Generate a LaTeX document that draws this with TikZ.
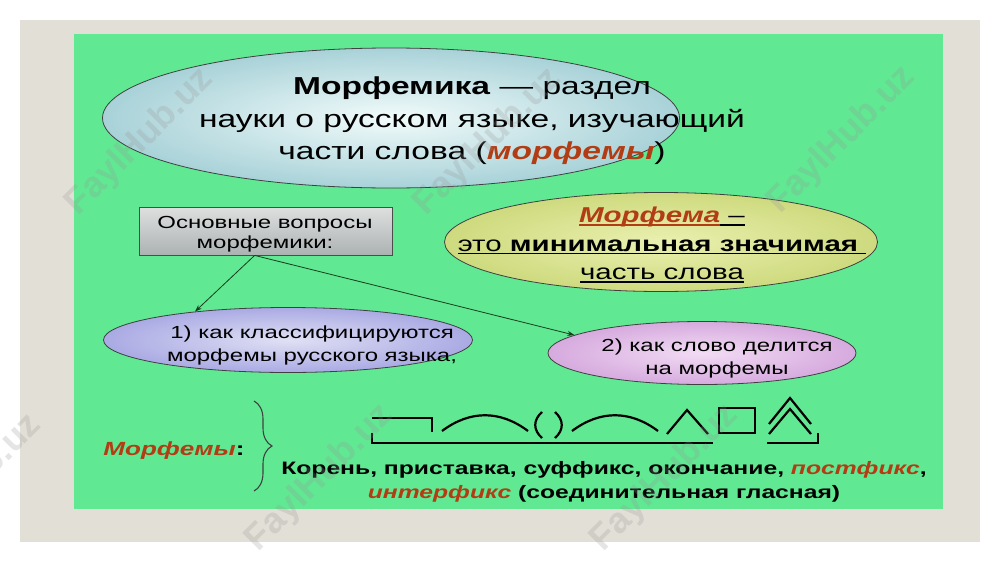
\documentclass[tikz,border=0pt]{standalone}
\usepackage{fontspec}
\setmainfont{Liberation Sans}[FakeStretch=1.37]
\newfontfamily\wmfont{Liberation Sans}
\newcommand{\myul}[1]{\setbox0\hbox{#1}\rlap{\rule[-3pt]{\wd0}{1.6pt}}\box0}
\usetikzlibrary{shapes.geometric,arrows.meta,decorations.pathreplacing}
\definecolor{framegray}{RGB}{226,223,214}
\definecolor{slidegreen}{RGB}{96,232,146}
\definecolor{accent}{RGB}{178,60,20}
\definecolor{arrowgreen}{RGB}{25,60,30}
\tikzset{
  oval/.style={ellipse, draw=black!75, line width=0.8pt, inner sep=0pt, shading=radial},
  txt/.style={align=center, inner sep=0pt, text=black},
  sym/.style={line width=2.2pt, black, line cap=butt, line join=miter},
  link/.style={draw=arrowgreen, line width=0.8pt, -{Stealth[length=7pt,width=5pt]}},
  wm/.style={rotate=45, text=black!40, opacity=0.25, font=\wmfont\bfseries\fontsize{36}{40}\selectfont, inner sep=0pt}
}
\begin{document}
\begin{tikzpicture}[x=1pt,y=-1pt]
\useasboundingbox (0,0) rectangle (1000,562);
\fill[white] (0,0) rectangle (1000,562);
\fill[framegray] (20,20) rectangle (980,542);
\fill[slidegreen] (74,34) rectangle (943,509);

% top ellipse
\node[oval, inner color={rgb,255:red,242;green,251;blue,251}, outer color={rgb,255:red,168;green,210;blue,216},
  minimum width=577pt, minimum height=140pt] (top) at (391,118) {};
\node[txt, font=\fontsize{24.5}{32.5}\selectfont] (toptext) at (472,121)
  {\textbf{Морфемика} — раздел\\ науки о русском языке, изучающий\\ части слова (\textbf{\textit{\color{accent}морфемы}})};

% box
\node[draw=black!70, line width=0.8pt, top color={rgb,255:red,222;green,224;blue,224}, bottom color={rgb,255:red,172;green,178;blue,178},
  minimum width=253pt, minimum height=48pt, inner sep=0pt] (box) at (265.5,231) {};
\node[txt, font=\fontsize{17.5}{20}\selectfont] (boxtext) at (265,234) {Основные вопросы\\ морфемики:};

% Morfema ellipse
\node[oval, inner color={rgb,255:red,234;green,240;blue,176}, outer color={rgb,255:red,206;green,218;blue,126},
  minimum width=433pt, minimum height=99pt] (def) at (661,242) {};
\node[txt, font=\fontsize{21.5}{28.5}\selectfont] (deftext) at (662,245)
  {{\color{accent}\myul{\textbf{\textit{Морфема}}}}\myul{ –}\\
   \myul{это \textbf{минимальная значимая} }\\
   \myul{часть слова}};

% ellipse 1
\node[oval, inner color={rgb,255:red,224;green,224;blue,244}, outer color={rgb,255:red,170;green,170;blue,228},
  minimum width=369pt, minimum height=65pt] (q1) at (288,340) {};
\node[txt, font=\fontsize{17.5}{23}\selectfont] (q1text) at (312,345)
  {1) как классифицируются\\ морфемы русского языка,};

% ellipse 2
\node[oval, inner color={rgb,255:red,242;green,220;blue,244}, outer color={rgb,255:red,214;green,170;blue,222},
  minimum width=308pt, minimum height=63pt] (q2) at (702,353) {};
\node[txt, font=\fontsize{17.5}{23}\selectfont] (q2text) at (717,358)
  {2) как слово делится\\ на морфемы};

% connectors
\draw[link] (box.246) -- (q1.163);
\draw[link] (box.246) -- (q2.172);

% Morfemy label and brace
\node[txt, font=\fontsize{19}{22}\selectfont] (lbl) at (174,451)
  {\textbf{\textit{\color{accent}Морфемы}}\textbf{:}};
\coordinate (bt) at (254,401);
\coordinate (bb) at (254,491);
\draw[line width=1.1pt, black!75, decorate, decoration={brace, amplitude=18pt}] (bt) -- (bb);

% morpheme symbols
\draw[sym] (372,418) -- (432,418) -- (432,432);
\draw[sym] (442,431) .. controls (470,410) and (500,410) .. (528,431);
\draw[sym] (542,412) .. controls (533,420) and (533,430) .. (542,438);
\draw[sym] (555,412) .. controls (564,420) and (564,430) .. (555,438);
\draw[sym] (572,431) .. controls (600,410) and (630,410) .. (658,431);
\draw[sym] (667,434) -- (687,410) -- (708,434);
\draw[sym] (719,408) rectangle (755,433);
\draw[sym] (769,424) -- (790,398) -- (811,424);
\draw[sym] (769,434) -- (790,409) -- (811,434);
\draw[sym] (372,433) -- (372,443) -- (713,443);
\draw[sym] (767,443) -- (818,443) -- (818,433);

% bottom text
\node[txt, font=\bfseries\fontsize{18}{24}\selectfont] (list) at (604,482)
  {Корень, приставка, суффикс, окончание, {\itshape\color{accent}постфикс},\\
   {\itshape\color{accent}интерфикс} (соединительная гласная)};

% watermarks
\node[wm] (w1) at (140,142) {FaylHub.uz};
\node[wm] (w2) at (488,142) {FaylHub.uz};
\node[wm] (w3) at (842,140) {FaylHub.uz};
\node[wm] (w4) at (-32,488) {FaylHub.uz};
\node[wm] (w5) at (320,478) {FaylHub.uz};
\node[wm] (w6) at (665,478) {FaylHub.uz};
\end{tikzpicture}
\end{document}
